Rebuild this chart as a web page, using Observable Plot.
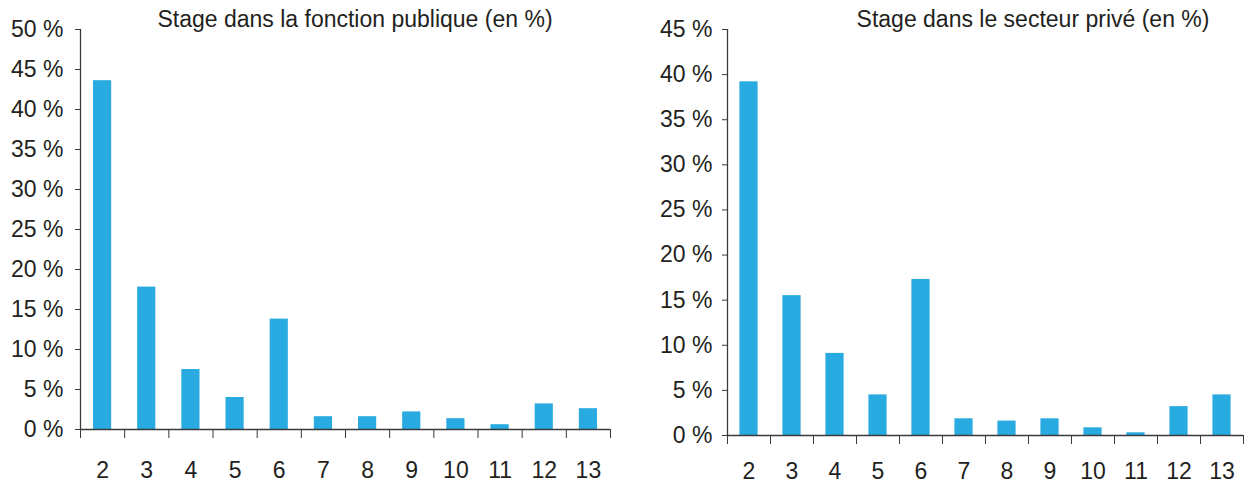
<!DOCTYPE html>
<html>
<head>
<meta charset="utf-8">
<script src="https://cdn.jsdelivr.net/npm/d3@7"></script>
<script src="https://cdn.jsdelivr.net/npm/@observablehq/plot@0.6"></script>
<style>
  html, body { margin: 0; padding: 0; background: #fff; }
  #wrap { position: relative; width: 1246px; height: 482px; display: flex; }
  .panel { position: relative; width: 623px; height: 482px; }
  .title { position: absolute; top: 8px; font-family: "Liberation Sans", Arial, sans-serif; font-size: 23px; line-height: 23px; color: #231f20; white-space: nowrap; transform: translateX(-50%); }
</style>
</head>
<body>
<div id="wrap">
  <div class="panel" id="left"><div class="title" style="left:355px">Stage dans la fonction publique (en %)</div></div>
  <div class="panel" id="right"><div class="title" style="left:410px">Stage dans le secteur privé (en %)</div></div>
</div>
<script>
const categories = [2, 3, 4, 5, 6, 7, 8, 9, 10, 11, 12, 13];
const publicValues = [43.6, 17.8, 7.5, 4.0, 13.8, 1.6, 1.6, 2.2, 1.35, 0.6, 3.2, 2.6];
const privateValues = [39.2, 15.5, 9.1, 4.5, 17.3, 1.85, 1.6, 1.85, 0.85, 0.3, 3.2, 4.5];
const publicTicks = [0, 5, 10, 15, 20, 25, 30, 35, 40, 45, 50];
const privateTicks = [0, 5, 10, 15, 20, 25, 30, 35, 40, 45];
const titles = ["Stage dans la fonction publique (en %)", "Stage dans le secteur privé (en %)"];

const barColor = "#29aae1";
const axisColor = "#3a3a3a";

function makeChart(values, yTicks, opts) {
  const data = categories.map((c, i) => ({cat: c, v: values[i]}));
  const boundaries = categories.map(c => c - 0.5).concat([categories[categories.length - 1] + 0.5]);
  return Plot.plot({
    width: 623,
    height: 482,
    marginLeft: opts.ml,
    marginRight: opts.mr,
    marginTop: opts.mt,
    marginBottom: opts.mb,
    style: {fontFamily: "'Liberation Sans', Arial, sans-serif", fontSize: "23px", color: "#231f20", background: "transparent", overflow: "visible"},
    x: {type: "linear", domain: [boundaries[0], boundaries[boundaries.length - 1]]},
    y: {domain: [0, yTicks[yTicks.length - 1]]},
    marks: [
      Plot.rectY(data, {x1: d => d.cat - 0.5, x2: d => d.cat + 0.5, y: "v", fill: barColor, insetLeft: opts.inset, insetRight: opts.inset}),
      Plot.ruleY([0], {stroke: axisColor, strokeWidth: 1.3}),
      Plot.ruleX([boundaries[0]], {stroke: axisColor, strokeWidth: 1.3}),
      Plot.axisY({ticks: yTicks, tickFormat: d => d + " %", tickSize: 5, tickPadding: opts.yPad, label: null, stroke: axisColor}),
      Plot.axisX({ticks: boundaries, tickFormat: () => "", tickSize: 9, label: null, stroke: axisColor}),
      Plot.axisX({ticks: categories, tickFormat: d => String(d), tickSize: 0, tickPadding: opts.xPad, label: null})
    ]
  });
}

document.getElementById("left").appendChild(
  makeChart(publicValues, publicTicks, {ml: 80, mr: 13, mt: 29, mb: 53, inset: 13, yPad: 12, xPad: 32})
);
document.getElementById("right").appendChild(
  makeChart(privateValues, privateTicks, {ml: 104, mr: 3, mt: 29, mb: 47, inset: 12.4, yPad: 10, xPad: 27})
);
</script>
</body>
</html>
